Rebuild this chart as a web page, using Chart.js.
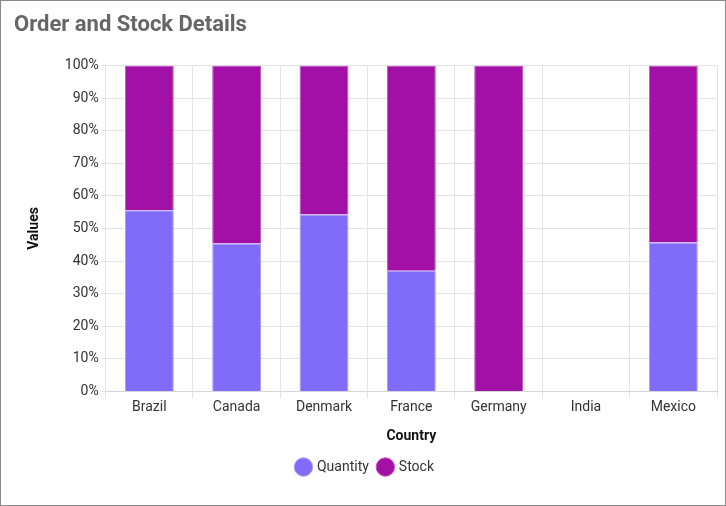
<!DOCTYPE html>
<html lang="en">
<head>
    <meta charset="UTF-8">
    <title>Order and Stock Details</title>
    <style>
        html, body { margin: 0; padding: 0; background: #fff; }
        .frame {
            position: absolute; left: 0; top: 0;
            width: 724px; height: 504px;
            border: 1px solid #8a8a8a;
        }
        #chart { display: block; }
    </style>
</head>
<body>
    <div class="frame">
        <canvas id="chart" width="724" height="504"></canvas>
    </div>

    <script src="https://cdn.jsdelivr.net/npm/chart.js@4.4.1/dist/chart.umd.min.js"></script>
    <script>
        // Values (share of each bar, in %)
        var countries = ["Brazil", "Canada", "Denmark", "France", "Germany", "India", "Mexico"];
        var quantity = [55.6, 45.4, 54.3, 37.0, 0, 0, 45.7];
        var stock = [44.4, 54.6, 45.7, 63.0, 100, 0, 54.3];

        var font = "Roboto, 'Noto Sans', sans-serif";

        new Chart(document.getElementById("chart"), {
            type: "bar",
            data: {
                labels: countries,
                datasets: [
                    {
                        label: "Quantity",
                        data: quantity,
                        backgroundColor: "#816cf9",
                        borderColor: "#a898fb",
                        borderWidth: 1
                    },
                    {
                        label: "Stock",
                        data: stock,
                        backgroundColor: "#a210a6",
                        borderColor: "#c052c4",
                        borderWidth: 1
                    }
                ]
            },
            options: {
                responsive: false,
                animation: false,
                layout: { padding: { left: 13, right: 8, top: 0, bottom: 21 } },
                datasets: { bar: { barPercentage: 0.56, categoryPercentage: 1 } },
                plugins: {
                    title: {
                        display: true,
                        text: "Order and Stock Details",
                        align: "start",
                        color: "#666666",
                        font: { family: font, size: 22, weight: "bold" },
                        padding: { top: 11, bottom: 27 }
                    },
                    legend: {
                        position: "bottom",
                        labels: {
                            usePointStyle: true,
                            pointStyle: "circle",
                            boxWidth: 13,
                            boxHeight: 13,
                            padding: 10,
                            color: "#333333",
                            font: { family: font, size: 14 }
                        }
                    },
                    tooltip: { enabled: false }
                },
                scales: {
                    x: {
                        stacked: true,
                        grid: { color: "#e3e3e3", offset: true, tickLength: 7 },
                        border: { color: "#d6d6d6" },
                        ticks: { color: "#333333", font: { family: font, size: 14 }, padding: 1 },
                        title: {
                            display: true,
                            text: "Country",
                            color: "#111111",
                            font: { family: font, size: 14, weight: "bold" },
                            padding: { top: 11, bottom: 5 }
                        }
                    },
                    y: {
                        stacked: true,
                        min: 0,
                        max: 100,
                        grid: { color: "#e3e3e3", tickLength: 4 },
                        border: { color: "#e3e3e3" },
                        ticks: {
                            stepSize: 10,
                            color: "#333333",
                            font: { family: font, size: 14 },
                            callback: function (v) { return v + "%"; }
                        },
                        title: {
                            display: true,
                            text: "Values",
                            color: "#111111",
                            font: { family: font, size: 14, weight: "bold" },
                            padding: { top: 12, bottom: 19 }
                        }
                    }
                }
            }
        });
    </script>
</body>
</html>
